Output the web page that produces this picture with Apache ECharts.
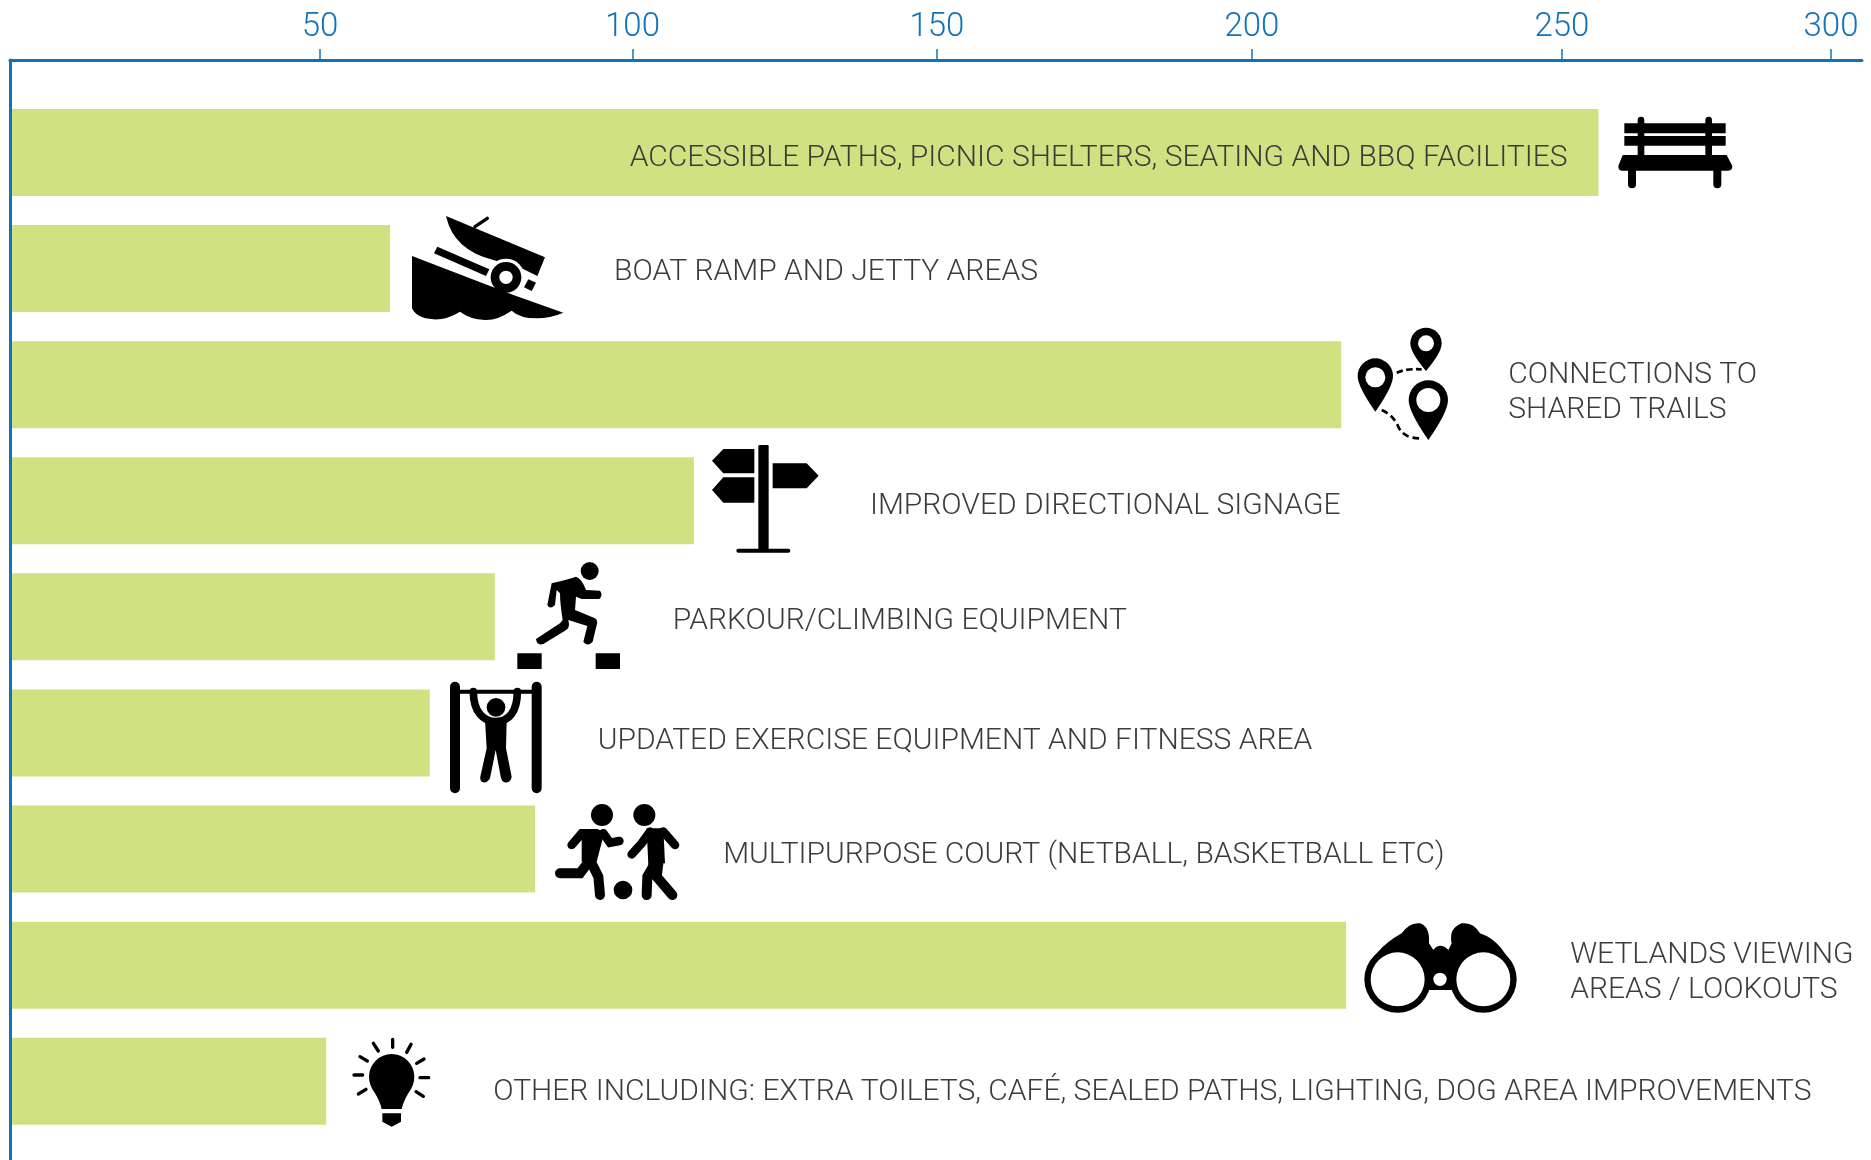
<!DOCTYPE html>
<html>
<head>
<meta charset="utf-8">
<title>Facilities chart</title>
<script src="https://cdn.jsdelivr.net/npm/echarts@6/dist/echarts.min.js"></script>
<style>
  html, body { margin: 0; height: 100%; background: #fff; }
  #main { width: 1871px; height: 1160px; }
</style>
</head>
<body>
<div id="main"></div>
<script>
var CATEGORIES = [
  'ACCESSIBLE PATHS, PICNIC SHELTERS, SEATING AND BBQ FACILITIES',
  'BOAT RAMP AND JETTY AREAS',
  'CONNECTIONS TO\nSHARED TRAILS',
  'IMPROVED DIRECTIONAL SIGNAGE',
  'PARKOUR/CLIMBING EQUIPMENT',
  'UPDATED EXERCISE EQUIPMENT AND FITNESS AREA',
  'MULTIPURPOSE COURT (NETBALL, BASKETBALL ETC)',
  'WETLANDS VIEWING\nAREAS / LOOKOUTS',
  'OTHER INCLUDING: EXTRA TOILETS, CAFÉ, SEALED PATHS, LIGHTING, DOG AREA IMPROVEMENTS'
];
var BAR_VALUES = [256.2, 61.3, 214.7, 110.3, 78.2, 67.7, 84.7, 215.5, 51];

// the ticks in the original are placed by hand and the last one sits well short of 300
var TICK_VALUES = [50, 100.4, 149.5, 200.3, 250.3, 293.7];
var TICK_LABELS = ['50', '100', '150', '200', '250', '300'];

var AXIS_MAX = 298.7;

// gap from bar end to text, and nudge down from bar centre
var LABEL_GAP = [31, 224, 167, 176, 178, 168, 188, 224, 167];
var LABEL_NUDGE = [6.5, 4, 8.5, 5.5, 4.5, 8.5, 6.5, 7.5, 11.5];

var BLUE = '#1272b8';
var TEXT = '#3c3c3b';

// icons are drawn in the pixels of a 3x crop, hence scale 1/3 below
function pin(cx, cy, r, tip) {
  return 'M' + (cx - r) + ' ' + cy + 'A' + r + ' ' + r + ' 0 1 1 ' + (cx + r) + ' ' + cy +
    'Q' + (cx + r) + ' ' + (cy + r * 0.6) + ' ' + cx + ' ' + tip +
    'Q' + (cx - r) + ' ' + (cy + r * 0.6) + ' ' + (cx - r) + ' ' + cy + 'Z';
}
function dot(cx, cy, r) {
  return 'M' + (cx - r) + ' ' + cy + 'A' + r + ' ' + r + ' 0 1 1 ' + (cx + r) + ' ' + cy +
    'A' + r + ' ' + r + ' 0 1 1 ' + (cx - r) + ' ' + cy + 'Z';
}

var ICONS = [
  { x: 1610, y: 105, parts: [
    { d: 'M43 55H347V85H43ZM43 93H347V122H43Z' },
    { line: 20, d: 'M93 45V150M296 45V150' },
    { d: 'M38 150H350L367 183Q367 197 355 197H35Q25 197 25 183Z' },
    { line: 24, d: 'M66 195V238M322 195V238' }
  ]},
  { x: 380, y: 200, parts: [
    { d: 'M198 48L495 172L472 228L425 205L340 180Q220 150 198 48Z' },
    { line: 10, d: 'M285 80L322 55' },
    { white: true, d: dot(378, 232, 56) },
    { d: 'M172 140L328 208L318 228L162 160Z' },
    { d: 'M96 168L340 262L400 285L550 338Q510 355 470 355Q420 355 395 332Q350 362 315 360Q270 358 240 335Q200 360 160 358Q110 355 96 325Z' },
    { d: dot(378, 232, 46) },
    { white: true, d: dot(378, 232, 20) },
    { d: 'M445 238L468 248L455 273L432 262Z' }
  ]},
  { x: 1340, y: 310, parts: [
    { d: pin(258, 100, 47, 183) },
    { white: true, d: dot(258, 100, 24) },
    { d: pin(106, 198, 53, 305) },
    { white: true, d: dot(106, 202, 30) },
    { d: pin(265, 270, 59, 390) },
    { white: true, d: dot(265, 270, 36) },
    { line: 8, dash: [20, 10], d: 'M170 188Q200 175 245 178' },
    { line: 8, dash: [20, 12], d: 'M125 300Q160 315 175 350Q190 385 240 385' }
  ]},
  { x: 700, y: 435, parts: [
    { d: 'M175 34Q175 30 180 30H201Q206 30 206 34V345H175Z' },
    { line: 12, d: 'M115 347H265' },
    { d: 'M163 42H70L36 77L70 115H163ZM163 127H70L36 165L70 203H163ZM218 85H320L356 122L320 160H218Z' }
  ]},
  { x: 500, y: 540, parts: [
    { d: dot(269, 93, 27) },
    { d: 'M155 130Q205 118 228 110Q245 115 258 150L300 152Q310 165 298 177L245 177L228 170L225 210L285 235Q295 242 290 255L278 305Q262 322 250 305L262 258L205 240Q212 265 195 272L130 312Q110 318 108 297L180 250L188 240Q180 190 180 160L170 150L165 195Q150 210 142 195Z' },
    { d: 'M52 340H125V387H52ZM287 340H360V387H287Z' }
  ]},
  { x: 440, y: 675, parts: [
    { line: 30, d: 'M45 35V340M290 35V340' },
    { line: 12, d: 'M60 50H275' },
    { line: 23, d: 'M100 50C100 110 130 140 168 140C206 140 232 110 232 50' },
    { d: dot(168, 97, 28) },
    { d: 'M135 135H200L198 220L215 305Q212 325 193 322Q185 318 183 310L167 225L150 310Q140 328 125 320Q118 312 122 300L140 220Z' }
  ]},
  { x: 540, y: 790, parts: [
    { d: dot(186, 75, 33) + dot(313, 75, 33) + dot(249, 300, 28) },
    { d: 'M125 120H195L170 215L125 215Z' },
    { line: 26, d: 'M95 165L125 130H170M190 130L210 158L238 153' },
    { line: 30, d: 'M150 210L120 250H60M150 210L175 260L180 315' },
    { d: 'M320 115H370L375 220L325 225Z' },
    { line: 26, d: 'M330 125L305 160L275 193M370 125L405 165' },
    { line: 30, d: 'M345 220L322 260L320 315M355 220L350 260L397 315' }
  ]},
  { x: 1355, y: 910, parts: [
    { d: dot(128, 208, 100) + dot(385, 208, 100) },
    { d: 'M30 200Q50 120 140 70Q165 35 195 40Q225 50 222 100L235 120Q255 95 280 120L290 100Q280 55 320 40Q355 35 375 70Q450 95 480 200L300 240H210Z' },
    { d: dot(255, 208, 32) },
    { white: true, d: dot(128, 208, 81) + dot(385, 208, 81) + dot(255, 208, 20) }
  ]},
  { x: 0, y: 1000, parts: [
    { d: 'M1107 230A68 68 0 1 1 1243 230Q1243 255 1225 280Q1210 305 1205 327H1145Q1140 305 1125 280Q1107 255 1107 230Z' },
    { d: 'M1147 340H1203V365L1175 380L1147 365Z' },
    { line: 10, d: 'M1178 118V142M1120 130L1135 153M1233 133L1220 157M1080 170L1102 183M1272 177L1250 190M1062 225H1088M1260 233H1286M1075 282L1098 268M1248 275L1270 289' }
  ]}
];

function renderIcon(params) {
  var icon = ICONS[params.dataIndex];
  return {
    type: 'group',
    children: icon.parts.map(function (p) {
      return {
        type: 'path',
        x: icon.x,
        y: icon.y,
        scaleX: 1 / 3,
        scaleY: 1 / 3,
        shape: { pathData: p.d },
        style: p.line
          ? { fill: 'none', stroke: '#000', lineWidth: p.line, lineCap: p.dash ? 'butt' : 'round', lineDash: p.dash || null }
          : { fill: p.white ? '#fff' : '#000' }
      };
    })
  };
}

var barData = BAR_VALUES.map(function (v, i) {
  return {
    value: v,
    label: {
      // only the longest text sits inside its bar
      position: i === 0 ? 'insideRight' : 'right',
      align: i === 0 ? 'right' : 'left',
      distance: LABEL_GAP[i],
      offset: [0, LABEL_NUDGE[i]]
    }
  };
});

var chart = echarts.init(document.getElementById('main'));
chart.setOption({
  animation: false,
  backgroundColor: '#fff',
  grid: [
    { left: 10, top: 60, width: 1852, bottom: 0 },
    { left: 10, top: 94.4, width: 1852, height: 1044.9 }
  ],
  xAxis: [
    {
      type: 'value',
      gridIndex: 0,
      position: 'top',
      min: 0,
      max: AXIS_MAX,
      splitLine: { show: false },
      axisLine: { show: true, onZero: false, lineStyle: { color: BLUE, width: 3 } },
      axisTick: { show: true, customValues: TICK_VALUES, length: 11, lineStyle: { color: BLUE, width: 1.5 } },
      axisLabel: {
        customValues: TICK_VALUES,
        margin: 16,
        color: BLUE,
        fontFamily: 'Roboto',
        fontWeight: 300,
        fontSize: 33,
        formatter: function (v) { return TICK_LABELS[TICK_VALUES.indexOf(v)]; }
      }
    },
    { type: 'value', gridIndex: 1, min: 0, max: AXIS_MAX, show: false }
  ],
  yAxis: [
    {
      type: 'value',
      gridIndex: 0,
      z: 5,
      min: 0,
      max: 1,
      splitLine: { show: false },
      axisLabel: { show: false },
      axisTick: { show: false },
      axisLine: { show: true, onZero: false, lineStyle: { color: BLUE, width: 3 } }
    },
    { type: 'category', gridIndex: 1, inverse: true, data: CATEGORIES, show: false }
  ],
  series: [
    {
      type: 'bar',
      xAxisIndex: 1,
      yAxisIndex: 1,
      barWidth: 87,
      itemStyle: { color: '#cfe180' },
      silent: true,
      label: {
        show: true,
        formatter: function (p) { return p.name; },
        color: TEXT,
        fontFamily: 'Roboto',
        fontWeight: 300,
        fontSize: 30,
        lineHeight: 35
      },
      data: barData
    },
    {
      type: 'custom',
      xAxisIndex: 1,
      yAxisIndex: 1,
      silent: true,
      renderItem: renderIcon,
      encode: { x: 0, y: 1 },
      data: BAR_VALUES.map(function (v, i) { return [v, i]; })
    }
  ]
});
</script>
</body>
</html>
